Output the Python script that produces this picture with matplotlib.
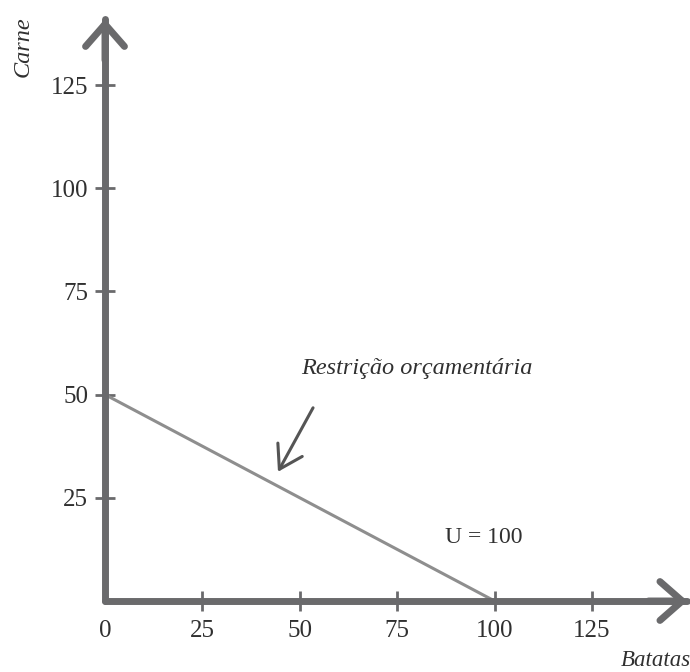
import matplotlib.pyplot as plt

# data
x_ticks = [0, 25, 50, 75, 100, 125]
y_ticks = [25, 50, 75, 100, 125]
budget_x = [0, 100]      # batatas
budget_y = [50, 0]       # carne
x_name = 'Batatas'
y_name = 'Carne'
budget_label = 'Restrição orçamentária'
utility_label = 'U = 100'

axis_col = '#6a6a6c'
line_col = '#8e8e8e'
text_col = '#303030'
plt.rcParams['font.family'] = ['Liberation Serif', 'DejaVu Serif']

fig = plt.figure(figsize=(6.9, 6.72), dpi=100)
ax = fig.add_axes([0, 0, 1, 1])
ax.set_xlim(-105 / 3.896, (690 - 105) / 3.896)
ax.set_ylim(-71 / 4.128, (672 - 71) / 4.128)
ax.patch.set_visible(False)

x_end, y_end = 149.5, 141.0
for side in ['top', 'right']:
    ax.spines[side].set_visible(False)
for side in ['left', 'bottom']:
    sp = ax.spines[side]
    sp.set_position(('data', 0))
    sp.set_linewidth(5)
    sp.set_color(axis_col)
    sp.set_capstyle('round')
    sp.set_zorder(3)
ax.spines['bottom'].set_bounds(0, x_end)
ax.spines['left'].set_bounds(0, y_end)

# arrow heads
head = dict(arrowstyle='->,head_length=0.8,head_width=0.7', color=axis_col,
            lw=5, shrinkA=0, shrinkB=0, mutation_scale=20,
            capstyle='round', joinstyle='round')
ax.annotate('', xy=(x_end, 0), xytext=(x_end - 10, 0), arrowprops=head)
ax.annotate('', xy=(0, y_end), xytext=(0, y_end - 10), arrowprops=head)

ax.set_xticks(x_ticks)
ax.set_xticklabels([str(v) for v in x_ticks])
ax.set_yticks(y_ticks)
ax.set_yticklabels([str(v) for v in y_ticks])
ax.tick_params(direction='inout', length=14, width=2, color=axis_col,
               labelsize=18, labelcolor=text_col)
ax.tick_params(axis='x', pad=7)
ax.tick_params(axis='y', pad=5)
ax.xaxis.get_major_ticks()[0].tick1line.set_visible(False)

ax.plot(budget_x, budget_y, color=line_col, lw=2.2, zorder=2)

ax.text(141.4, -14.5, x_name, fontsize=16.5, style='italic', color=text_col,
        ha='center', va='center')
ax.text(-21, 134.4, y_name, fontsize=17.5, style='italic', color=text_col,
        rotation=90, ha='center', va='center')
ax.text(80.1, 56.4, budget_label, fontsize=17.5, style='italic', color=text_col,
        ha='center', va='center')
ax.text(97.3, 15.3, utility_label, fontsize=17, color=text_col,
        ha='center', va='center')
ax.annotate('', xy=(44.4, 31.3), xytext=(53.4, 46.8),
            arrowprops=dict(arrowstyle='->,head_length=0.8,head_width=0.5',
                            color='#555555', lw=2.2, shrinkA=0, shrinkB=0,
                            mutation_scale=20))

fig.savefig('out.png', dpi=100)
